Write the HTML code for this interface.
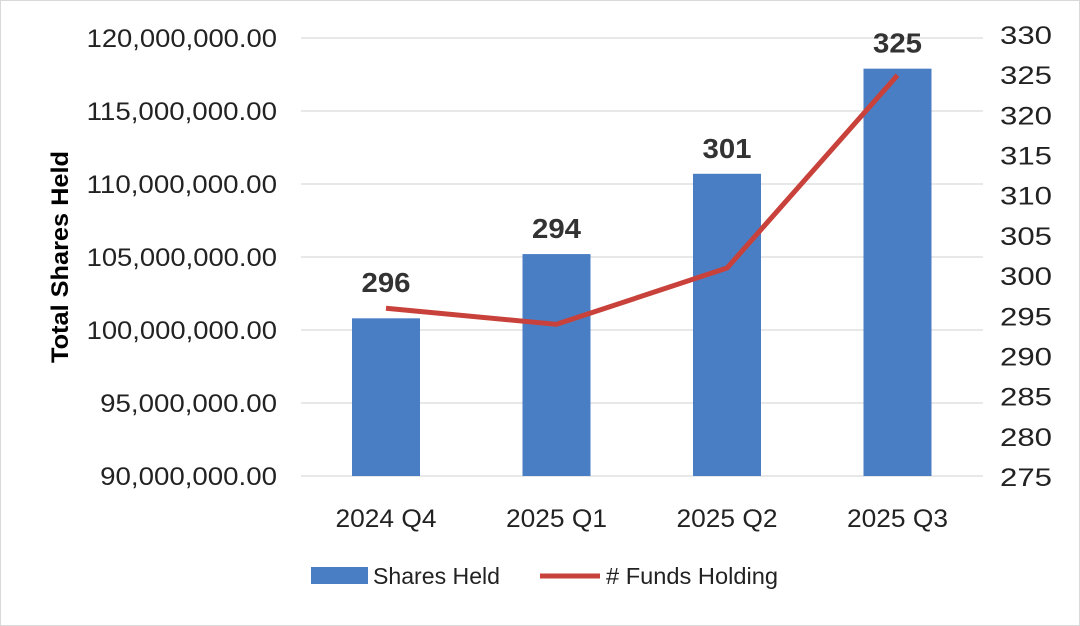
<!DOCTYPE html>
<html><head><meta charset="utf-8"><style>
html,body{margin:0;padding:0;background:#fff;}
svg{display:block;font-family:"Liberation Sans",sans-serif;}
</style></head><body>
<svg width="1080" height="626" viewBox="0 0 1080 626">
<rect x="0.5" y="0.5" width="1079" height="625" fill="#fff" stroke="#d9d9d9"/>
<g id="grid"></g><g id="bars"></g><g id="line"></g><g id="labels"></g>
<text transform="translate(68,257) rotate(-90)" text-anchor="middle" font-size="24" font-weight="bold" fill="#000" textLength="212" lengthAdjust="spacingAndGlyphs">Total Shares Held</text>
<g>
<rect x="311" y="567" width="57" height="17" fill="#4a7ec4"/>
<text x="373" y="584" font-size="23" fill="#222" textLength="127" lengthAdjust="spacingAndGlyphs">Shares Held</text>
<line x1="540" y1="576" x2="600" y2="576" stroke="#c9413b" stroke-width="5"/>
<text x="606" y="584" font-size="23" fill="#222" textLength="172" lengthAdjust="spacingAndGlyphs"># Funds Holding</text>
</g>
</svg>
<script>
const categories=["2024 Q4","2025 Q1","2025 Q2","2025 Q3"];
const sharesHeld=[100800000,105200000,110700000,117900000];
const fundsHolding=[296,294,301,325];
const leftTicks=[90000000,95000000,100000000,105000000,110000000,115000000,120000000];
const rightTicks=[275,280,285,290,295,300,305,310,315,320,325,330];
const NS="http://www.w3.org/2000/svg";
function mk(tag,attrs,parent,text){const e=document.createElementNS(NS,tag);for(const k in attrs)e.setAttribute(k,attrs[k]);if(text!==undefined)e.textContent=text;parent.appendChild(e);return e;}
const yL=v=>476-(v-90000000)/30000000*438;
const yR=v=>477-(v-275)/55*442;
const xC=i=>386+i*170.5;
const grid=document.getElementById('grid');
leftTicks.forEach(t=>{
 const l=mk('line',{x1:301,x2:983,y1:yL(t),y2:yL(t),stroke:'#d9d9d9','stroke-width':1.2},grid);
 
 
 const s=t.toLocaleString('en-US',{minimumFractionDigits:2});
 const tx=mk('text',{x:277,y:yL(t)+9,'text-anchor':'end','font-size':25,fill:'#222',textLength:s.length*13.6,lengthAdjust:'spacingAndGlyphs'},grid,s);
 
 
});
rightTicks.forEach(t=>{
 const tx=mk('text',{x:1000,y:yR(t)+9,'font-size':25,fill:'#222',textLength:52,lengthAdjust:'spacingAndGlyphs'},grid,String(t));
 
 
});
const bars=document.getElementById('bars');
categories.forEach((c,i)=>{
 const r=mk('rect',{x:xC(i)-34,y:yL(sharesHeld[i]),width:68,height:476-yL(sharesHeld[i]),fill:'#4a7ec4'},bars);
 
 
 const tx=mk('text',{x:xC(i),y:527,'text-anchor':'middle','font-size':25,fill:'#222',textLength:101,lengthAdjust:'spacingAndGlyphs'},bars,c);
 
 
});
const line=document.getElementById('line');
const p=mk('polyline',{points:fundsHolding.map((v,i)=>xC(i)+','+yR(v)).join(' '),fill:'none',stroke:'#c9413b','stroke-width':5,'stroke-linejoin':'round'},line);


const labels=document.getElementById('labels');
fundsHolding.forEach((v,i)=>{
 const top=Math.min(yL(sharesHeld[i]),yR(v));
 const tx=mk('text',{x:xC(i),y:top-16,'text-anchor':'middle','font-size':28,'font-weight':'bold',fill:'#333',textLength:49,lengthAdjust:'spacingAndGlyphs'},labels,String(v));
 
 
});
</script>
</body></html>
